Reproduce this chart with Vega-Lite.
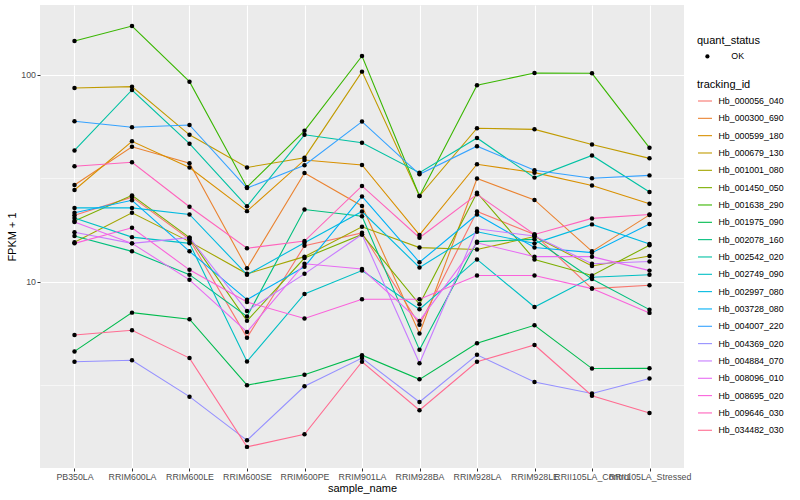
{
  "$schema": "https://vega.github.io/schema/vega-lite/v6.json",
  "width": 644,
  "height": 463,
  "autosize": {"type": "none"},
  "padding": {"left": 40, "top": 5, "right": 116, "bottom": 32},
  "background": "white",
  "config": {
    "font": "Liberation Sans",
    "view": {"fill": "#EBEBEB", "stroke": null},
    "axis": {
      "domain": false,
      "gridColor": "white",
      "tickColor": "#333333",
      "tickSize": 3,
      "labelColor": "#4D4D4D",
      "labelFontSize": 8.8,
      "labelFont": "Liberation Sans",
      "titleFont": "Liberation Sans",
      "titleFontSize": 11,
      "titleColor": "black",
      "titleFontWeight": "normal",
      "labelPadding": 1.5
    },
    "legend": {
      "titleFont": "Liberation Sans",
      "labelFont": "Liberation Sans",
      "titleFontSize": 11,
      "titleFontWeight": "normal",
      "titleColor": "black",
      "labelFontSize": 8.8,
      "labelColor": "black"
    }
  },
  "data": {
    "values": [
      {"id":"Hb_000056_040","sample":"PB350LA","fpkm":20.9,"status":"OK"},
      {"id":"Hb_000056_040","sample":"RRIM600LA","fpkm":25.6,"status":"OK"},
      {"id":"Hb_000056_040","sample":"RRIM600LE","fpkm":16.0,"status":"OK"},
      {"id":"Hb_000056_040","sample":"RRIM600SE","fpkm":5.36,"status":"OK"},
      {"id":"Hb_000056_040","sample":"RRIM600PE","fpkm":14.9,"status":"OK"},
      {"id":"Hb_000056_040","sample":"RRIM901LA","fpkm":17.2,"status":"OK"},
      {"id":"Hb_000056_040","sample":"RRIM928BA","fpkm":6.18,"status":"OK"},
      {"id":"Hb_000056_040","sample":"RRIM928LA","fpkm":21.8,"status":"OK"},
      {"id":"Hb_000056_040","sample":"RRIM928LE","fpkm":16.9,"status":"OK"},
      {"id":"Hb_000056_040","sample":"RRII105LA_Control","fpkm":9.25,"status":"OK"},
      {"id":"Hb_000056_040","sample":"RRII105LA_Stressed","fpkm":9.60,"status":"OK"},

      {"id":"Hb_000300_690","sample":"PB350LA","fpkm":29.3,"status":"OK"},
      {"id":"Hb_000300_690","sample":"RRIM600LA","fpkm":44.8,"status":"OK"},
      {"id":"Hb_000300_690","sample":"RRIM600LE","fpkm":37.3,"status":"OK"},
      {"id":"Hb_000300_690","sample":"RRIM600SE","fpkm":11.6,"status":"OK"},
      {"id":"Hb_000300_690","sample":"RRIM600PE","fpkm":33.5,"status":"OK"},
      {"id":"Hb_000300_690","sample":"RRIM901LA","fpkm":23.2,"status":"OK"},
      {"id":"Hb_000300_690","sample":"RRIM928BA","fpkm":5.61,"status":"OK"},
      {"id":"Hb_000300_690","sample":"RRIM928LA","fpkm":31.5,"status":"OK"},
      {"id":"Hb_000300_690","sample":"RRIM928LE","fpkm":24.8,"status":"OK"},
      {"id":"Hb_000300_690","sample":"RRII105LA_Control","fpkm":14.0,"status":"OK"},
      {"id":"Hb_000300_690","sample":"RRII105LA_Stressed","fpkm":21.0,"status":"OK"},

      {"id":"Hb_000599_180","sample":"PB350LA","fpkm":27.7,"status":"OK"},
      {"id":"Hb_000599_180","sample":"RRIM600LA","fpkm":47.6,"status":"OK"},
      {"id":"Hb_000599_180","sample":"RRIM600LE","fpkm":35.6,"status":"OK"},
      {"id":"Hb_000599_180","sample":"RRIM600SE","fpkm":21.9,"status":"OK"},
      {"id":"Hb_000599_180","sample":"RRIM600PE","fpkm":38.7,"status":"OK"},
      {"id":"Hb_000599_180","sample":"RRIM901LA","fpkm":36.6,"status":"OK"},
      {"id":"Hb_000599_180","sample":"RRIM928BA","fpkm":16.8,"status":"OK"},
      {"id":"Hb_000599_180","sample":"RRIM928LA","fpkm":36.9,"status":"OK"},
      {"id":"Hb_000599_180","sample":"RRIM928LE","fpkm":33.6,"status":"OK"},
      {"id":"Hb_000599_180","sample":"RRII105LA_Control","fpkm":29.1,"status":"OK"},
      {"id":"Hb_000599_180","sample":"RRII105LA_Stressed","fpkm":23.8,"status":"OK"},

      {"id":"Hb_000679_130","sample":"PB350LA","fpkm":86.2,"status":"OK"},
      {"id":"Hb_000679_130","sample":"RRIM600LA","fpkm":87.5,"status":"OK"},
      {"id":"Hb_000679_130","sample":"RRIM600LE","fpkm":51.2,"status":"OK"},
      {"id":"Hb_000679_130","sample":"RRIM600SE","fpkm":35.6,"status":"OK"},
      {"id":"Hb_000679_130","sample":"RRIM600PE","fpkm":39.7,"status":"OK"},
      {"id":"Hb_000679_130","sample":"RRIM901LA","fpkm":103.4,"status":"OK"},
      {"id":"Hb_000679_130","sample":"RRIM928BA","fpkm":25.9,"status":"OK"},
      {"id":"Hb_000679_130","sample":"RRIM928LA","fpkm":55.1,"status":"OK"},
      {"id":"Hb_000679_130","sample":"RRIM928LE","fpkm":54.4,"status":"OK"},
      {"id":"Hb_000679_130","sample":"RRII105LA_Control","fpkm":46.0,"status":"OK"},
      {"id":"Hb_000679_130","sample":"RRII105LA_Stressed","fpkm":39.4,"status":"OK"},

      {"id":"Hb_001001_080","sample":"PB350LA","fpkm":15.5,"status":"OK"},
      {"id":"Hb_001001_080","sample":"RRIM600LA","fpkm":21.5,"status":"OK"},
      {"id":"Hb_001001_080","sample":"RRIM600LE","fpkm":15.6,"status":"OK"},
      {"id":"Hb_001001_080","sample":"RRIM600SE","fpkm":10.9,"status":"OK"},
      {"id":"Hb_001001_080","sample":"RRIM600PE","fpkm":13.2,"status":"OK"},
      {"id":"Hb_001001_080","sample":"RRIM901LA","fpkm":18.4,"status":"OK"},
      {"id":"Hb_001001_080","sample":"RRIM928BA","fpkm":14.6,"status":"OK"},
      {"id":"Hb_001001_080","sample":"RRIM928LA","fpkm":14.3,"status":"OK"},
      {"id":"Hb_001001_080","sample":"RRIM928LE","fpkm":16.5,"status":"OK"},
      {"id":"Hb_001001_080","sample":"RRII105LA_Control","fpkm":11.9,"status":"OK"},
      {"id":"Hb_001001_080","sample":"RRII105LA_Stressed","fpkm":13.3,"status":"OK"},

      {"id":"Hb_001450_050","sample":"PB350LA","fpkm":19.6,"status":"OK"},
      {"id":"Hb_001450_050","sample":"RRIM600LA","fpkm":26.1,"status":"OK"},
      {"id":"Hb_001450_050","sample":"RRIM600LE","fpkm":16.3,"status":"OK"},
      {"id":"Hb_001450_050","sample":"RRIM600SE","fpkm":6.46,"status":"OK"},
      {"id":"Hb_001450_050","sample":"RRIM600PE","fpkm":13.0,"status":"OK"},
      {"id":"Hb_001450_050","sample":"RRIM901LA","fpkm":16.9,"status":"OK"},
      {"id":"Hb_001450_050","sample":"RRIM928BA","fpkm":7.77,"status":"OK"},
      {"id":"Hb_001450_050","sample":"RRIM928LA","fpkm":26.9,"status":"OK"},
      {"id":"Hb_001450_050","sample":"RRIM928LE","fpkm":12.8,"status":"OK"},
      {"id":"Hb_001450_050","sample":"RRII105LA_Control","fpkm":10.7,"status":"OK"},
      {"id":"Hb_001450_050","sample":"RRII105LA_Stressed","fpkm":15.0,"status":"OK"},

      {"id":"Hb_001638_290","sample":"PB350LA","fpkm":145.5,"status":"OK"},
      {"id":"Hb_001638_290","sample":"RRIM600LA","fpkm":171.8,"status":"OK"},
      {"id":"Hb_001638_290","sample":"RRIM600LE","fpkm":92.5,"status":"OK"},
      {"id":"Hb_001638_290","sample":"RRIM600SE","fpkm":28.6,"status":"OK"},
      {"id":"Hb_001638_290","sample":"RRIM600PE","fpkm":53.5,"status":"OK"},
      {"id":"Hb_001638_290","sample":"RRIM901LA","fpkm":123,"status":"OK"},
      {"id":"Hb_001638_290","sample":"RRIM928BA","fpkm":25.9,"status":"OK"},
      {"id":"Hb_001638_290","sample":"RRIM928LA","fpkm":88.8,"status":"OK"},
      {"id":"Hb_001638_290","sample":"RRIM928LE","fpkm":101.9,"status":"OK"},
      {"id":"Hb_001638_290","sample":"RRII105LA_Control","fpkm":101.5,"status":"OK"},
      {"id":"Hb_001638_290","sample":"RRII105LA_Stressed","fpkm":44.3,"status":"OK"},

      {"id":"Hb_001975_090","sample":"PB350LA","fpkm":4.60,"status":"OK"},
      {"id":"Hb_001975_090","sample":"RRIM600LA","fpkm":7.08,"status":"OK"},
      {"id":"Hb_001975_090","sample":"RRIM600LE","fpkm":6.58,"status":"OK"},
      {"id":"Hb_001975_090","sample":"RRIM600SE","fpkm":3.16,"status":"OK"},
      {"id":"Hb_001975_090","sample":"RRIM600PE","fpkm":3.55,"status":"OK"},
      {"id":"Hb_001975_090","sample":"RRIM901LA","fpkm":4.41,"status":"OK"},
      {"id":"Hb_001975_090","sample":"RRIM928BA","fpkm":3.37,"status":"OK"},
      {"id":"Hb_001975_090","sample":"RRIM928LA","fpkm":5.04,"status":"OK"},
      {"id":"Hb_001975_090","sample":"RRIM928LE","fpkm":6.15,"status":"OK"},
      {"id":"Hb_001975_090","sample":"RRII105LA_Control","fpkm":3.80,"status":"OK"},
      {"id":"Hb_001975_090","sample":"RRII105LA_Stressed","fpkm":3.81,"status":"OK"},

      {"id":"Hb_002078_160","sample":"PB350LA","fpkm":16.6,"status":"OK"},
      {"id":"Hb_002078_160","sample":"RRIM600LA","fpkm":14.0,"status":"OK"},
      {"id":"Hb_002078_160","sample":"RRIM600LE","fpkm":10.8,"status":"OK"},
      {"id":"Hb_002078_160","sample":"RRIM600SE","fpkm":6.78,"status":"OK"},
      {"id":"Hb_002078_160","sample":"RRIM600PE","fpkm":22.3,"status":"OK"},
      {"id":"Hb_002078_160","sample":"RRIM901LA","fpkm":20.7,"status":"OK"},
      {"id":"Hb_002078_160","sample":"RRIM928BA","fpkm":4.68,"status":"OK"},
      {"id":"Hb_002078_160","sample":"RRIM928LA","fpkm":15.6,"status":"OK"},
      {"id":"Hb_002078_160","sample":"RRIM928LE","fpkm":16.0,"status":"OK"},
      {"id":"Hb_002078_160","sample":"RRII105LA_Control","fpkm":10.3,"status":"OK"},
      {"id":"Hb_002078_160","sample":"RRII105LA_Stressed","fpkm":7.32,"status":"OK"},

      {"id":"Hb_002542_020","sample":"PB350LA","fpkm":43.0,"status":"OK"},
      {"id":"Hb_002542_020","sample":"RRIM600LA","fpkm":84.3,"status":"OK"},
      {"id":"Hb_002542_020","sample":"RRIM600LE","fpkm":46.4,"status":"OK"},
      {"id":"Hb_002542_020","sample":"RRIM600SE","fpkm":23.1,"status":"OK"},
      {"id":"Hb_002542_020","sample":"RRIM600PE","fpkm":51.2,"status":"OK"},
      {"id":"Hb_002542_020","sample":"RRIM901LA","fpkm":46.9,"status":"OK"},
      {"id":"Hb_002542_020","sample":"RRIM928BA","fpkm":33.6,"status":"OK"},
      {"id":"Hb_002542_020","sample":"RRIM928LA","fpkm":49.4,"status":"OK"},
      {"id":"Hb_002542_020","sample":"RRIM928LE","fpkm":31.8,"status":"OK"},
      {"id":"Hb_002542_020","sample":"RRII105LA_Control","fpkm":40.7,"status":"OK"},
      {"id":"Hb_002542_020","sample":"RRII105LA_Stressed","fpkm":27.1,"status":"OK"},

      {"id":"Hb_002749_090","sample":"PB350LA","fpkm":20.3,"status":"OK"},
      {"id":"Hb_002749_090","sample":"RRIM600LA","fpkm":16.4,"status":"OK"},
      {"id":"Hb_002749_090","sample":"RRIM600LE","fpkm":15.3,"status":"OK"},
      {"id":"Hb_002749_090","sample":"RRIM600SE","fpkm":4.11,"status":"OK"},
      {"id":"Hb_002749_090","sample":"RRIM600PE","fpkm":8.72,"status":"OK"},
      {"id":"Hb_002749_090","sample":"RRIM901LA","fpkm":11.3,"status":"OK"},
      {"id":"Hb_002749_090","sample":"RRIM928BA","fpkm":7.35,"status":"OK"},
      {"id":"Hb_002749_090","sample":"RRIM928LA","fpkm":12.8,"status":"OK"},
      {"id":"Hb_002749_090","sample":"RRIM928LE","fpkm":7.54,"status":"OK"},
      {"id":"Hb_002749_090","sample":"RRII105LA_Control","fpkm":10.5,"status":"OK"},
      {"id":"Hb_002749_090","sample":"RRII105LA_Stressed","fpkm":10.8,"status":"OK"},

      {"id":"Hb_002997_080","sample":"PB350LA","fpkm":22.7,"status":"OK"},
      {"id":"Hb_002997_080","sample":"RRIM600LA","fpkm":22.7,"status":"OK"},
      {"id":"Hb_002997_080","sample":"RRIM600LE","fpkm":21.1,"status":"OK"},
      {"id":"Hb_002997_080","sample":"RRIM600SE","fpkm":10.8,"status":"OK"},
      {"id":"Hb_002997_080","sample":"RRIM600PE","fpkm":15.4,"status":"OK"},
      {"id":"Hb_002997_080","sample":"RRIM901LA","fpkm":21.8,"status":"OK"},
      {"id":"Hb_002997_080","sample":"RRIM928BA","fpkm":11.7,"status":"OK"},
      {"id":"Hb_002997_080","sample":"RRIM928LA","fpkm":17.4,"status":"OK"},
      {"id":"Hb_002997_080","sample":"RRIM928LE","fpkm":15.3,"status":"OK"},
      {"id":"Hb_002997_080","sample":"RRII105LA_Control","fpkm":18.9,"status":"OK"},
      {"id":"Hb_002997_080","sample":"RRII105LA_Stressed","fpkm":15.2,"status":"OK"},

      {"id":"Hb_003728_080","sample":"PB350LA","fpkm":21.5,"status":"OK"},
      {"id":"Hb_003728_080","sample":"RRIM600LA","fpkm":24.7,"status":"OK"},
      {"id":"Hb_003728_080","sample":"RRIM600LE","fpkm":14.0,"status":"OK"},
      {"id":"Hb_003728_080","sample":"RRIM600SE","fpkm":8.18,"status":"OK"},
      {"id":"Hb_003728_080","sample":"RRIM600PE","fpkm":11.8,"status":"OK"},
      {"id":"Hb_003728_080","sample":"RRIM901LA","fpkm":25.8,"status":"OK"},
      {"id":"Hb_003728_080","sample":"RRIM928BA","fpkm":12.4,"status":"OK"},
      {"id":"Hb_003728_080","sample":"RRIM928LA","fpkm":21.1,"status":"OK"},
      {"id":"Hb_003728_080","sample":"RRIM928LE","fpkm":14.6,"status":"OK"},
      {"id":"Hb_003728_080","sample":"RRII105LA_Control","fpkm":13.8,"status":"OK"},
      {"id":"Hb_003728_080","sample":"RRII105LA_Stressed","fpkm":19.0,"status":"OK"},

      {"id":"Hb_004007_220","sample":"PB350LA","fpkm":59.5,"status":"OK"},
      {"id":"Hb_004007_220","sample":"RRIM600LA","fpkm":55.7,"status":"OK"},
      {"id":"Hb_004007_220","sample":"RRIM600LE","fpkm":57.1,"status":"OK"},
      {"id":"Hb_004007_220","sample":"RRIM600SE","fpkm":28.3,"status":"OK"},
      {"id":"Hb_004007_220","sample":"RRIM600PE","fpkm":36.5,"status":"OK"},
      {"id":"Hb_004007_220","sample":"RRIM901LA","fpkm":59.3,"status":"OK"},
      {"id":"Hb_004007_220","sample":"RRIM928BA","fpkm":33.0,"status":"OK"},
      {"id":"Hb_004007_220","sample":"RRIM928LA","fpkm":45.1,"status":"OK"},
      {"id":"Hb_004007_220","sample":"RRIM928LE","fpkm":34.5,"status":"OK"},
      {"id":"Hb_004007_220","sample":"RRII105LA_Control","fpkm":31.6,"status":"OK"},
      {"id":"Hb_004007_220","sample":"RRII105LA_Stressed","fpkm":32.6,"status":"OK"},

      {"id":"Hb_004369_020","sample":"PB350LA","fpkm":4.10,"status":"OK"},
      {"id":"Hb_004369_020","sample":"RRIM600LA","fpkm":4.17,"status":"OK"},
      {"id":"Hb_004369_020","sample":"RRIM600LE","fpkm":2.78,"status":"OK"},
      {"id":"Hb_004369_020","sample":"RRIM600SE","fpkm":1.71,"status":"OK"},
      {"id":"Hb_004369_020","sample":"RRIM600PE","fpkm":3.12,"status":"OK"},
      {"id":"Hb_004369_020","sample":"RRIM901LA","fpkm":4.27,"status":"OK"},
      {"id":"Hb_004369_020","sample":"RRIM928BA","fpkm":2.62,"status":"OK"},
      {"id":"Hb_004369_020","sample":"RRIM928LA","fpkm":4.43,"status":"OK"},
      {"id":"Hb_004369_020","sample":"RRIM928LE","fpkm":3.27,"status":"OK"},
      {"id":"Hb_004369_020","sample":"RRII105LA_Control","fpkm":2.88,"status":"OK"},
      {"id":"Hb_004369_020","sample":"RRII105LA_Stressed","fpkm":3.40,"status":"OK"},

      {"id":"Hb_004884_070","sample":"PB350LA","fpkm":17.3,"status":"OK"},
      {"id":"Hb_004884_070","sample":"RRIM600LA","fpkm":15.3,"status":"OK"},
      {"id":"Hb_004884_070","sample":"RRIM600LE","fpkm":16.3,"status":"OK"},
      {"id":"Hb_004884_070","sample":"RRIM600SE","fpkm":7.21,"status":"OK"},
      {"id":"Hb_004884_070","sample":"RRIM600PE","fpkm":10.9,"status":"OK"},
      {"id":"Hb_004884_070","sample":"RRIM901LA","fpkm":16.9,"status":"OK"},
      {"id":"Hb_004884_070","sample":"RRIM928BA","fpkm":4.03,"status":"OK"},
      {"id":"Hb_004884_070","sample":"RRIM928LA","fpkm":18.0,"status":"OK"},
      {"id":"Hb_004884_070","sample":"RRIM928LE","fpkm":16.6,"status":"OK"},
      {"id":"Hb_004884_070","sample":"RRII105LA_Control","fpkm":12.2,"status":"OK"},
      {"id":"Hb_004884_070","sample":"RRII105LA_Stressed","fpkm":12.5,"status":"OK"},

      {"id":"Hb_008096_010","sample":"PB350LA","fpkm":19.4,"status":"OK"},
      {"id":"Hb_008096_010","sample":"RRIM600LA","fpkm":15.3,"status":"OK"},
      {"id":"Hb_008096_010","sample":"RRIM600LE","fpkm":10.2,"status":"OK"},
      {"id":"Hb_008096_010","sample":"RRIM600SE","fpkm":5.71,"status":"OK"},
      {"id":"Hb_008096_010","sample":"RRIM600PE","fpkm":12.2,"status":"OK"},
      {"id":"Hb_008096_010","sample":"RRIM901LA","fpkm":11.5,"status":"OK"},
      {"id":"Hb_008096_010","sample":"RRIM928BA","fpkm":6.46,"status":"OK"},
      {"id":"Hb_008096_010","sample":"RRIM928LA","fpkm":15.4,"status":"OK"},
      {"id":"Hb_008096_010","sample":"RRIM928LE","fpkm":13.2,"status":"OK"},
      {"id":"Hb_008096_010","sample":"RRII105LA_Control","fpkm":13.2,"status":"OK"},
      {"id":"Hb_008096_010","sample":"RRII105LA_Stressed","fpkm":11.3,"status":"OK"},

      {"id":"Hb_008695_020","sample":"PB350LA","fpkm":15.3,"status":"OK"},
      {"id":"Hb_008695_020","sample":"RRIM600LA","fpkm":18.2,"status":"OK"},
      {"id":"Hb_008695_020","sample":"RRIM600LE","fpkm":11.4,"status":"OK"},
      {"id":"Hb_008695_020","sample":"RRIM600SE","fpkm":7.97,"status":"OK"},
      {"id":"Hb_008695_020","sample":"RRIM600PE","fpkm":6.63,"status":"OK"},
      {"id":"Hb_008695_020","sample":"RRIM901LA","fpkm":8.22,"status":"OK"},
      {"id":"Hb_008695_020","sample":"RRIM928BA","fpkm":8.22,"status":"OK"},
      {"id":"Hb_008695_020","sample":"RRIM928LA","fpkm":10.7,"status":"OK"},
      {"id":"Hb_008695_020","sample":"RRIM928LE","fpkm":10.7,"status":"OK"},
      {"id":"Hb_008695_020","sample":"RRII105LA_Control","fpkm":9.25,"status":"OK"},
      {"id":"Hb_008695_020","sample":"RRII105LA_Stressed","fpkm":7.06,"status":"OK"},

      {"id":"Hb_009646_030","sample":"PB350LA","fpkm":36.1,"status":"OK"},
      {"id":"Hb_009646_030","sample":"RRIM600LA","fpkm":37.7,"status":"OK"},
      {"id":"Hb_009646_030","sample":"RRIM600LE","fpkm":23.0,"status":"OK"},
      {"id":"Hb_009646_030","sample":"RRIM600SE","fpkm":14.5,"status":"OK"},
      {"id":"Hb_009646_030","sample":"RRIM600PE","fpkm":15.7,"status":"OK"},
      {"id":"Hb_009646_030","sample":"RRIM901LA","fpkm":29.0,"status":"OK"},
      {"id":"Hb_009646_030","sample":"RRIM928BA","fpkm":16.3,"status":"OK"},
      {"id":"Hb_009646_030","sample":"RRIM928LA","fpkm":26.4,"status":"OK"},
      {"id":"Hb_009646_030","sample":"RRIM928LE","fpkm":16.9,"status":"OK"},
      {"id":"Hb_009646_030","sample":"RRII105LA_Control","fpkm":20.2,"status":"OK"},
      {"id":"Hb_009646_030","sample":"RRII105LA_Stressed","fpkm":21.1,"status":"OK"},

      {"id":"Hb_034482_030","sample":"PB350LA","fpkm":5.52,"status":"OK"},
      {"id":"Hb_034482_030","sample":"RRIM600LA","fpkm":5.82,"status":"OK"},
      {"id":"Hb_034482_030","sample":"RRIM600LE","fpkm":4.27,"status":"OK"},
      {"id":"Hb_034482_030","sample":"RRIM600SE","fpkm":1.59,"status":"OK"},
      {"id":"Hb_034482_030","sample":"RRIM600PE","fpkm":1.83,"status":"OK"},
      {"id":"Hb_034482_030","sample":"RRIM901LA","fpkm":4.10,"status":"OK"},
      {"id":"Hb_034482_030","sample":"RRIM928BA","fpkm":2.39,"status":"OK"},
      {"id":"Hb_034482_030","sample":"RRIM928LA","fpkm":4.10,"status":"OK"},
      {"id":"Hb_034482_030","sample":"RRIM928LE","fpkm":4.94,"status":"OK"},
      {"id":"Hb_034482_030","sample":"RRII105LA_Control","fpkm":2.81,"status":"OK"},
      {"id":"Hb_034482_030","sample":"RRII105LA_Stressed","fpkm":2.32,"status":"OK"}
    ]
  },
  "encoding": {
    "x": {
      "field": "sample",
      "type": "nominal",
      "sort": ["PB350LA","RRIM600LA","RRIM600LE","RRIM600SE","RRIM600PE","RRIM901LA","RRIM928BA","RRIM928LA","RRIM928LE","RRII105LA_Control","RRII105LA_Stressed"],
      "scale": {"type": "point", "padding": 0.6},
      "axis": {"title": "sample_name", "labelAngle": 0, "grid": true, "gridWidth": 1.1, "labelOverlap": false, "labelFlush": false, "labelBound": false, "titlePadding": 1}
    },
    "y": {
      "field": "fpkm",
      "type": "quantitative",
      "scale": {"type": "log", "domain": [1.257, 217], "nice": false, "zero": false},
      "axis": {
        "title": "FPKM + 1",
        "values": [3.1623, 10, 31.623, 100],
        "labelExpr": "datum.value == 10 ? '10' : datum.value == 100 ? '100' : ''",
        "gridWidth": {"condition": {"test": "datum.value == 10 || datum.value == 100", "value": 1.1}, "value": 0.55},
        "tickColor": {"condition": {"test": "datum.value == 10 || datum.value == 100", "value": "#333333"}, "value": "transparent"},
        "titlePadding": 3
      }
    }
  },
  "layer": [
    {
      "mark": {"type": "line", "strokeWidth": 1.1},
      "encoding": {
        "stroke": {
          "field": "id",
          "type": "nominal",
          "scale": {
            "domain": ["Hb_000056_040","Hb_000300_690","Hb_000599_180","Hb_000679_130","Hb_001001_080","Hb_001450_050","Hb_001638_290","Hb_001975_090","Hb_002078_160","Hb_002542_020","Hb_002749_090","Hb_002997_080","Hb_003728_080","Hb_004007_220","Hb_004369_020","Hb_004884_070","Hb_008096_010","Hb_008695_020","Hb_009646_030","Hb_034482_030"],
            "range": ["#F8766D","#EA8331","#D89000","#C09B00","#A3A500","#7CAE00","#39B600","#00BB4E","#00BF7D","#00C1A3","#00BFC4","#00BAE0","#00B0F6","#35A2FF","#9590FF","#C77CFF","#E76BF3","#FA62DB","#FF62BC","#FF6C91"]
          },
          "legend": {
            "title": "tracking_id",
            "orient": "none",
            "legendX": 657,
            "legendY": 74,
            "symbolType": "stroke",
            "symbolSize": 196,
            "symbolStrokeWidth": 1.1,
            "labelOffset": 5.5,
            "rowPadding": 4.33,
            "titlePadding": 3
          }
        }
      }
    },
    {
      "mark": {"type": "point", "filled": true, "size": 20, "opacity": 1},
      "encoding": {
        "color": {
          "field": "status",
          "type": "nominal",
          "scale": {"range": ["black"]},
          "legend": {
            "title": "quant_status",
            "orient": "none",
            "legendX": 657,
            "legendY": 30,
            "symbolType": "circle",
            "symbolSize": 18,
            "symbolOffset": 6,
            "labelOffset": 19.5,
            "titlePadding": 6
          }
        }
      }
    }
  ]
}
